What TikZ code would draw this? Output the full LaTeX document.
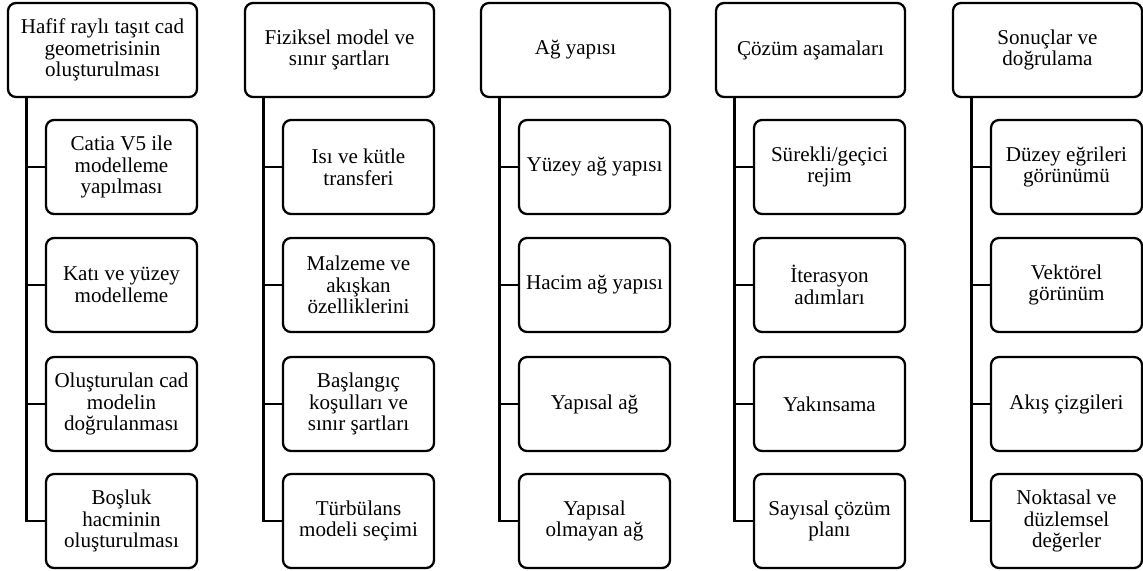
\documentclass[tikz,border=0pt]{standalone}
\usepackage{fontspec}
\setmainfont{Liberation Serif}
\usepackage{tikz}
\usetikzlibrary{positioning}

\begin{document}
\begin{tikzpicture}[
x=0.75pt,y=-0.75pt,
font=\fontsize{15.8}{16.3}\selectfont,
header/.style={draw,line width=1.7pt,rounded corners=6pt,align=center,
  minimum width=141.75pt,minimum height=70.5pt,inner sep=0pt},
item/.style={header,minimum width=113.25pt},
tree/.style={line width=2pt}]
    \useasboundingbox (0,0) rectangle (1143,571);

    % Headers
    \node[header] (cad) at (102.5,50) {Hafif raylı taşıt cad\\geometrisinin\\oluşturulması};
    \node[header] (fiz) at (339.5,50) {Fiziksel model ve\\sınır şartları};
    \node[header] (ag)  at (575.5,50) {Ağ yapısı};
    \node[header] (coz) at (810.5,50) {Çözüm aşamaları};
    \node[header] (son) at (1047.5,50) {Sonuçlar ve\\doğrulama};

    % Column 1
    \node[item] (cad1) at (121.5,167) {Catia V5 ile\\modelleme\\yapılması};
    \node[item] (cad2) at (121.5,285) {Katı ve yüzey\\modelleme};
    \node[item] (cad3) at (121.5,404) {Oluşturulan cad\\modelin\\doğrulanması};
    \node[item] (cad4) at (121.5,521) {Boşluk\\hacminin\\oluşturulması};

    % Column 2
    \node[item] (fiz1) at (358.5,167) {Isı ve kütle\\transferi};
    \node[item] (fiz2) at (358.5,285) {Malzeme ve\\akışkan\\özelliklerini};
    \node[item] (fiz3) at (358.5,404) {Başlangıç\\koşulları ve\\sınır şartları};
    \node[item] (fiz4) at (358.5,521) {Türbülans\\modeli seçimi};

    % Column 3
    \node[item] (ag1) at (594.5,167) {Yüzey ağ yapısı};
    \node[item] (ag2) at (594.5,285) {Hacim ağ yapısı};
    \node[item] (ag3) at (594.5,404) {Yapısal ağ};
    \node[item] (ag4) at (594.5,521) {Yapısal\\olmayan ağ};

    % Column 4
    \node[item] (coz1) at (829.5,167) {Sürekli/geçici\\rejim};
    \node[item] (coz2) at (829.5,285) {İterasyon\\adımları};
    \node[item] (coz3) at (829.5,404) {Yakınsama};
    \node[item] (coz4) at (829.5,521) {Sayısal çözüm\\planı};

    % Column 5
    \node[item] (son1) at (1066.5,167) {Düzey eğrileri\\görünümü};
    \node[item] (son2) at (1066.5,285) {Vektörel\\görünüm};
    \node[item] (son3) at (1066.5,404) {Akış çizgileri};
    \node[item] (son4) at (1066.5,521) {Noktasal ve\\düzlemsel\\değerler};

    % Connectors
    \draw[tree] ([xshift=14.5pt]cad.south west) |- (cad1.west);
    \draw[tree] ([xshift=14.5pt]cad.south west) |- (cad2.west);
    \draw[tree] ([xshift=14.5pt]cad.south west) |- (cad3.west);
    \draw[tree] ([xshift=14.5pt]cad.south west) |- (cad4.west);
    \draw[tree] ([xshift=14.5pt]fiz.south west) |- (fiz1.west);
    \draw[tree] ([xshift=14.5pt]fiz.south west) |- (fiz2.west);
    \draw[tree] ([xshift=14.5pt]fiz.south west) |- (fiz3.west);
    \draw[tree] ([xshift=14.5pt]fiz.south west) |- (fiz4.west);
    \draw[tree] ([xshift=14.5pt]ag.south west) |- (ag1.west);
    \draw[tree] ([xshift=14.5pt]ag.south west) |- (ag2.west);
    \draw[tree] ([xshift=14.5pt]ag.south west) |- (ag3.west);
    \draw[tree] ([xshift=14.5pt]ag.south west) |- (ag4.west);
    \draw[tree] ([xshift=14.5pt]coz.south west) |- (coz1.west);
    \draw[tree] ([xshift=14.5pt]coz.south west) |- (coz2.west);
    \draw[tree] ([xshift=14.5pt]coz.south west) |- (coz3.west);
    \draw[tree] ([xshift=14.5pt]coz.south west) |- (coz4.west);
    \draw[tree] ([xshift=14.5pt]son.south west) |- (son1.west);
    \draw[tree] ([xshift=14.5pt]son.south west) |- (son2.west);
    \draw[tree] ([xshift=14.5pt]son.south west) |- (son3.west);
    \draw[tree] ([xshift=14.5pt]son.south west) |- (son4.west);

\end{tikzpicture}
\end{document}
